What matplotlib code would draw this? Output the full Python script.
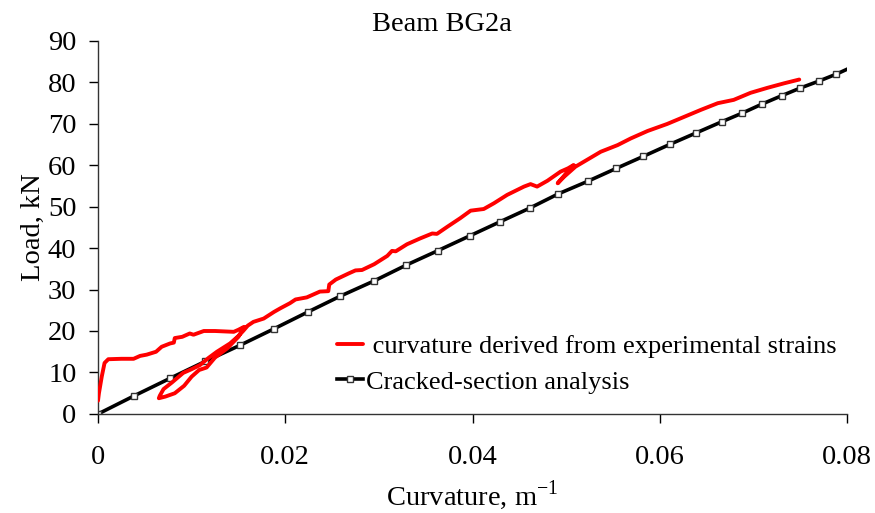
import matplotlib
matplotlib.use('Agg')
import matplotlib.pyplot as plt

plt.rcParams['font.family'] = ['Liberation Serif', 'DejaVu Serif']
plt.rcParams['mathtext.fontset'] = 'custom'
plt.rcParams['mathtext.rm'] = 'Liberation Serif'

# experimental curve (curvature from measured strains)
curv_exp = [0.0000, 0.0001, 0.0004, 0.0007, 0.0011, 0.0025, 0.0038, 0.0045, 0.0052,
            0.0062, 0.0068, 0.0077, 0.0081, 0.0082, 0.0090, 0.0098, 0.0102, 0.0113,
            0.0125, 0.0145, 0.0150, 0.0156,
            0.0150, 0.0138, 0.0125, 0.0116, 0.0108, 0.0100, 0.0092, 0.0082, 0.0072, 0.0065,
            0.0066, 0.0070, 0.0079, 0.0091, 0.0100, 0.0109, 0.0118, 0.0127, 0.0141, 0.0150,
            0.0155, 0.0160, 0.0166, 0.0177, 0.0188, 0.0195, 0.0205, 0.0211, 0.0223, 0.0237,
            0.0246, 0.0247, 0.0254, 0.0268, 0.0275, 0.0282, 0.0295, 0.0309, 0.0314, 0.0318,
            0.0330, 0.0344, 0.0357, 0.0362, 0.0373, 0.0387, 0.0398, 0.0412, 0.0423, 0.0437,
            0.0455, 0.0462, 0.0469, 0.0480, 0.0494, 0.0502, 0.0508,
            0.0500, 0.0491, 0.0498, 0.0510,
            0.0519, 0.0537, 0.0555, 0.0569, 0.0587, 0.0608, 0.0626, 0.0644, 0.0662, 0.0679,
            0.0697, 0.0715, 0.0733, 0.0749]
load_exp = [3.2, 5.0, 9.0, 12.3, 13.2, 13.3, 13.3, 14.0, 14.3,
            15.0, 16.2, 17.0, 17.2, 18.3, 18.6, 19.4, 19.1, 20.0,
            20.0, 19.8, 20.3, 21.0,
            18.6, 15.8, 13.6, 11.2, 10.6, 9.0, 6.8, 5.0, 4.2, 3.8,
            4.4, 6.0, 7.6, 9.9, 10.8, 11.8, 13.5, 15.0, 17.0, 18.8,
            20.0, 21.3, 22.2, 23.0, 24.6, 25.5, 26.7, 27.6, 28.1, 29.5,
            29.6, 31.2, 32.4, 33.9, 34.6, 34.7, 36.1, 38.1, 39.3, 39.2,
            40.9, 42.3, 43.5, 43.4, 45.1, 47.2, 49.0, 49.4, 50.8, 52.8,
            54.8, 55.4, 54.8, 56.2, 58.4, 59.2, 60.0,
            58.0, 55.6, 57.2, 59.6,
            60.8, 63.2, 64.8, 66.4, 68.2, 69.9, 71.6, 73.3, 74.9, 75.7,
            77.4, 78.6, 79.7, 80.6]

# cracked-section analysis
curv_calc = [0, 0.00388, 0.0077, 0.01148, 0.01516, 0.01882, 0.02243, 0.02588, 0.02952,
             0.03294, 0.03629, 0.03968, 0.04292, 0.04610, 0.04912, 0.05233, 0.05537,
             0.05826, 0.06110, 0.06385, 0.06660, 0.06880, 0.07094, 0.07302, 0.07501,
             0.07697, 0.07886, 0.0808]
load_calc = [0, 4.4, 8.6, 12.7, 16.55, 20.55, 24.6, 28.4, 32.1,
             35.9, 39.35, 42.9, 46.3, 49.6, 53.0, 56.1, 59.2,
             62.1, 65.0, 67.7, 70.4, 72.5, 74.7, 76.7, 78.55,
             80.2, 81.9, 83.9]

x_ticks = [0, 0.02, 0.04, 0.06, 0.08]
x_tick_labels = ['0', '0.02', '0.04', '0.06', '0.08']
y_ticks = [0, 10, 20, 30, 40, 50, 60, 70, 80, 90]

fig = plt.figure(figsize=(8.75, 5.13), dpi=100)
ax = fig.add_axes([0.112, 0.193, 0.856, 0.728])

l2, = ax.plot(curv_calc, load_calc, color='black', lw=2.6, marker='s', markersize=5,
              markerfacecolor='white', markeredgecolor='#333333', markeredgewidth=1,
              label='Cracked-section analysis', zorder=2)
l1, = ax.plot(curv_exp, load_exp, color='#ff0000', lw=2.8, solid_joinstyle='round',
              solid_capstyle='round',
              label=' curvature derived from experimental strains', zorder=3)

ax.set_xlim(0, 0.08)
ax.set_ylim(0, 90)
ax.set_xticks(x_ticks)
ax.set_xticklabels(x_tick_labels)
ax.set_yticks(y_ticks)
ax.tick_params(axis='x', direction='out', length=6.5, width=1, labelsize=20.5, pad=16)
ax.tick_params(axis='y', direction='out', length=6.5, width=1, labelsize=20.5, pad=9)
for s in ['top', 'right']:
    ax.spines[s].set_visible(False)
for s in ['left', 'bottom']:
    ax.spines[s].set_linewidth(1)
    ax.spines[s].set_color('#333333')

ax.set_xlabel('Curvature, m$^{\\mathrm{-1}}$', fontsize=20.5, labelpad=6)
ax.set_ylabel('Load, kN', fontsize=20.5)
ax.yaxis.set_label_coords(-0.070, 0.5)
fig.text(0.505, 0.952, 'Beam BG2a', fontsize=20.5, ha='center', va='center')

ax.legend(handles=[l1, l2], loc='center left', bbox_to_anchor=(0.319, 0.133),
          frameon=False, fontsize=19, handlelength=1.0, handletextpad=0.1,
          labelspacing=0.45, borderpad=0, borderaxespad=0)

fig.savefig('out.png', dpi=100)
